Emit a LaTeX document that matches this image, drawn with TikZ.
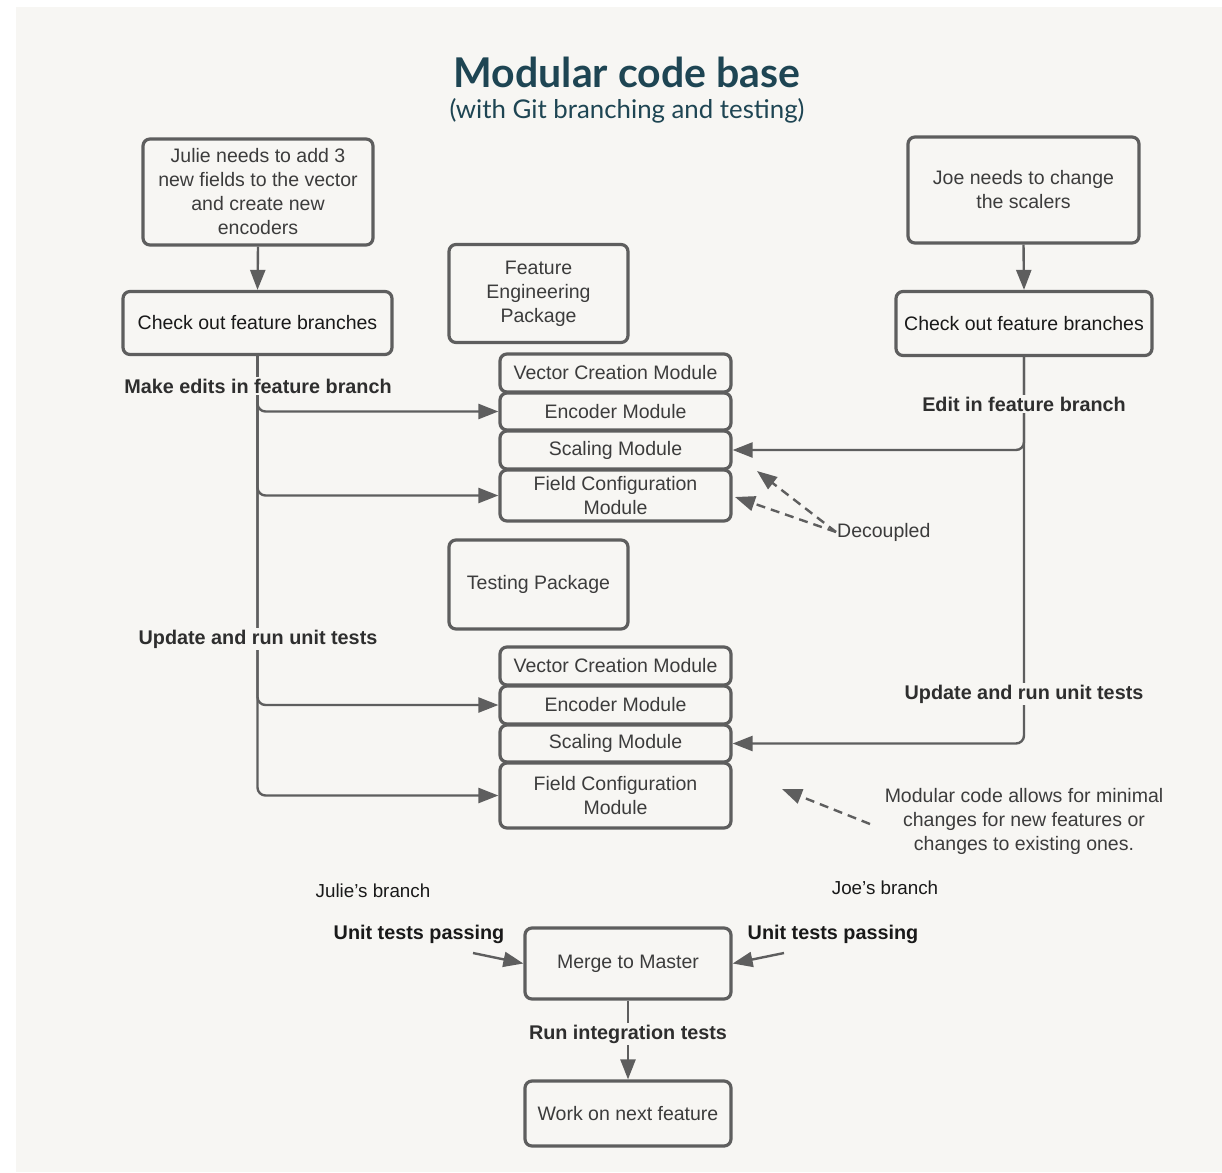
\documentclass[tikz,border=0pt]{standalone}
\usepackage{fontspec}
\setmainfont{Liberation Sans}
\newfontfamily\titlefont{Lato}
\usetikzlibrary{arrows.meta}

\definecolor{bgpanel}{HTML}{F7F6F3}
\definecolor{linec}{HTML}{5E5E5E}
\definecolor{boxtext}{HTML}{3C3C3C}
\definecolor{lbltext}{HTML}{2E2E2E}
\definecolor{titlec}{HTML}{1E4553}

\tikzset{
  x=1pt, y=-1pt,
  box/.style={draw=linec, line width=3.2pt, rounded corners=7pt, fill=bgpanel,
    align=center, inner sep=0pt, text=boxtext,
    font=\fontsize{19.5}{24}\selectfont},
  darkbox/.style={box, text=black!90},
  conn/.style={draw=linec, line width=2.4pt, rounded corners=8pt,
    -{Triangle[length=20pt,width=15pt]}},
  dconn/.style={draw=linec, line width=2.4pt, dash pattern=on 9pt off 6pt,
    -{Triangle[length=20pt,width=15pt]}},
  lbl/.style={fill=bgpanel, inner sep=1.5pt, text=lbltext,
    font=\fontsize{19.8}{24}\selectfont\bfseries},
  note/.style={align=center, inner sep=1pt, text=boxtext,
    font=\fontsize{19.5}{24}\selectfont},
  branch/.style={inner sep=1pt, text=black!90, font=\fontsize{18.8}{22}\selectfont},
}

\begin{document}
\begin{tikzpicture}
% canvas and panel
\fill[white] (0,0) rectangle (1222,1172);
\fill[bgpanel] (16,7) rectangle (1222,1172);
\useasboundingbox (0,0) rectangle (1222,1172);

% heading
\node[text=titlec, font=\titlefont\fontsize{41}{46}\selectfont\bfseries] (title) at (627,72) {Modular code base};
\node[text=titlec, font=\titlefont\fontsize{25.8}{30}\selectfont] (subtitle) at (627,111) {(with Git branching and testing)};

% Julie's side
\node[box, minimum width=230pt, minimum height=106pt] (julie) at (258,192)
  {Julie needs to add 3\\new fields to the vector\\and create new\\encoders};
\node[darkbox, minimum width=269pt, minimum height=63pt] (lco) at (257.5,323)
  {Check out feature branches};

% Joe's side
\node[box, minimum width=231pt, minimum height=106pt] (joe) at (1023.5,190)
  {Joe needs to change\\the scalers};
\node[darkbox, minimum width=256pt, minimum height=64pt] (rco) at (1024,323.5)
  {Check out feature branches};

% feature engineering package
\node[box, minimum width=179pt, minimum height=98pt] (fep) at (538.5,293.5)
  {Feature\\Engineering\\Package};
\node[box, minimum width=231pt, minimum height=38pt] (vc1) at (615.5,373) {Vector Creation Module};
\node[box, minimum width=231pt, minimum height=37pt] (enc1) at (615.5,411.5) {Encoder Module};
\node[box, minimum width=231pt, minimum height=38pt] (sc1) at (615.5,450) {Scaling Module};
\node[box, minimum width=231pt, minimum height=51pt] (fc1) at (615.5,495.5) {Field Configuration\\Module};

% testing package
\node[box, minimum width=179pt, minimum height=89pt] (tp) at (538.5,584.5) {Testing Package};
\node[box, minimum width=231pt, minimum height=38pt] (vc2) at (615.5,666) {Vector Creation Module};
\node[box, minimum width=231pt, minimum height=38pt] (enc2) at (615.5,705) {Encoder Module};
\node[box, minimum width=231pt, minimum height=37pt] (sc2) at (615.5,743.5) {Scaling Module};
\node[box, minimum width=231pt, minimum height=65pt] (fc2) at (615.5,795.5) {Field Configuration\\Module};

% merging
\node[box, minimum width=206pt, minimum height=71pt] (merge) at (628,963.5) {Merge to Master};
\node[box, minimum width=206pt, minimum height=65pt] (work) at (628,1113.5) {Work on next feature};

% flow on Julie's branch
\draw[conn] (julie.south) -- (lco.north);
\draw[conn] (lco.south) |- (enc1.west);
\draw[conn] (lco.south) |- (fc1.west);
\draw[conn] (lco.south) |- (enc2.west);
\draw[conn] (lco.south) |- (fc2.west);

% flow on Joe's branch
\draw[conn] (joe.south) -- (rco.north);
\draw[conn] (rco.south) |- (sc1.east);
\draw[conn] (rco.south) |- (sc2.east);

% merge flow
\draw[conn] (merge.south) -- (work.north);

% labels sitting on the lines
\node[lbl] (l1) at (258,386) {Make edits in feature branch};
\node[lbl] (l2) at (258,639) {Update and run unit tests};
\node[lbl] (r1) at (1024,404) {Edit in feature branch};
\node[lbl] (r2) at (1024,694) {Update and run unit tests};
\node[lbl] (m1) at (628,1034) {Run integration tests};

% decoupling note
\node[note, anchor=west] (dec) at (836,532) {Decoupled};
\coordinate (dtip1) at (757,471);
\coordinate (dtip2) at (735,497);
\draw[dconn] (dec.west) -- (dtip1);
\draw[dconn] (dec.west) -- (dtip2);

% modularity note
\node[note] (mnote) at (1024,821) {Modular code allows for minimal\\changes for new features or\\changes to existing ones.};
\coordinate (mstart) at (870,824);
\coordinate (mtip) at (782,789);
\draw[dconn] (mstart) -- (mtip);

% branch captions and incoming merges
\node[branch] (jb) at (373,891) {Julie’s branch};
\node[branch] (ob) at (885,888) {Joe’s branch};
\node[lbl, text=black!90] (ju) at (419,934) {Unit tests passing};
\node[lbl, text=black!90] (ou) at (833,934) {Unit tests passing};
\coordinate (jin) at (473,953);
\coordinate (oin) at (784,953);
\draw[conn] (jin) -- (merge.west);
\draw[conn] (oin) -- (merge.east);
\end{tikzpicture}
\end{document}
